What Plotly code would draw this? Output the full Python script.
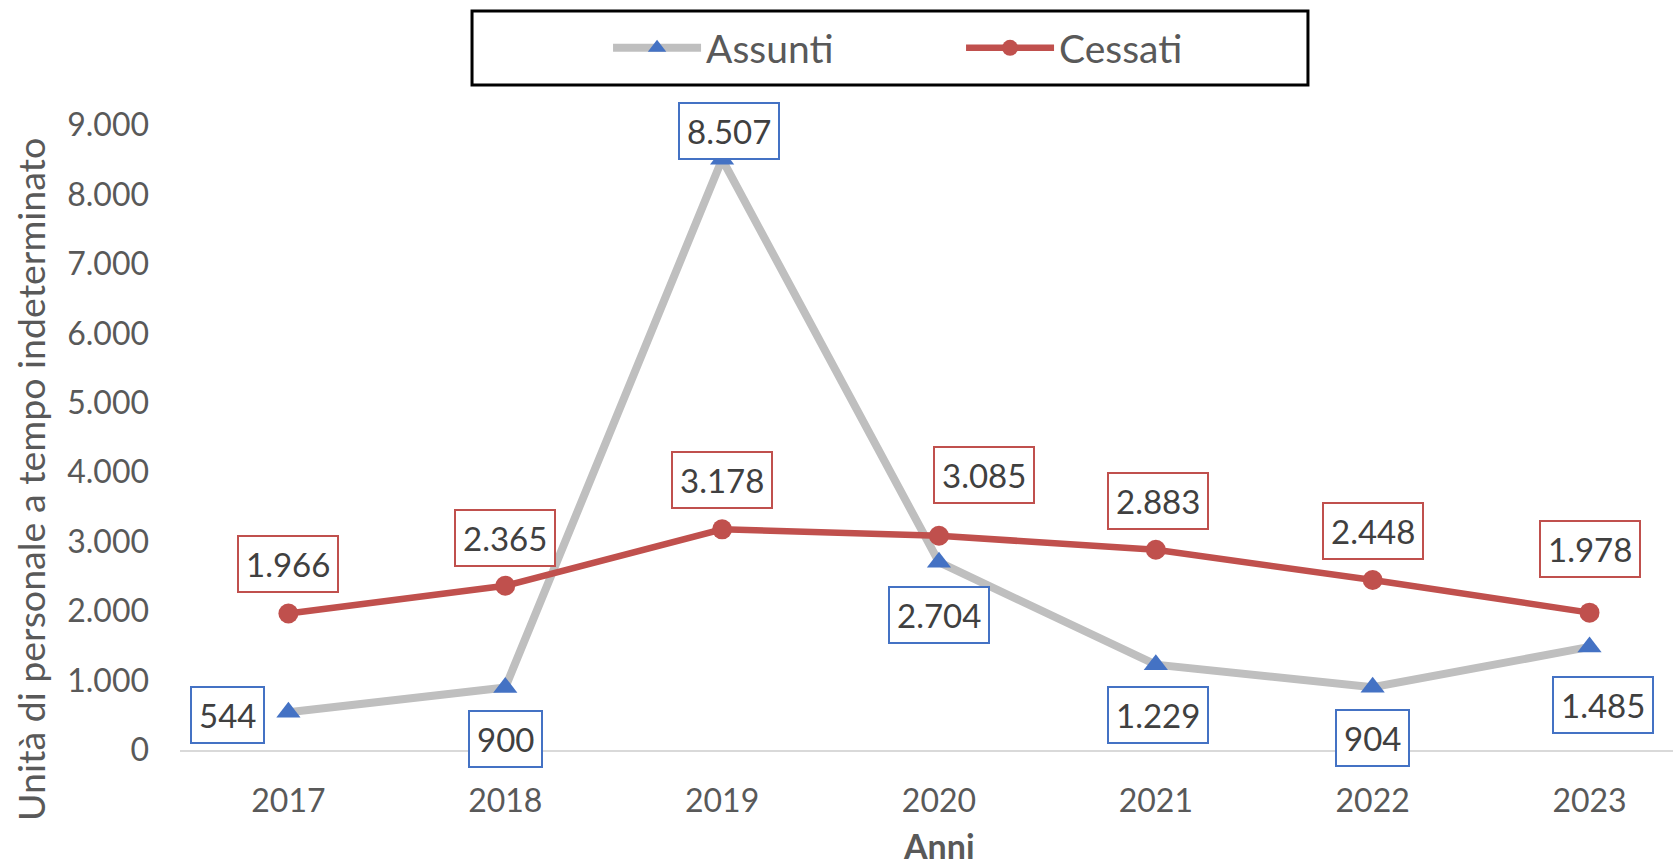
import plotly.graph_objects as go

anni = ["2017", "2018", "2019", "2020", "2021", "2022", "2023"]
assunti = [544, 900, 8507, 2704, 1229, 904, 1485]
cessati = [1966, 2365, 3178, 3085, 2883, 2448, 1978]
y_ticks = [0, 1000, 2000, 3000, 4000, 5000, 6000, 7000, 8000, 9000]

# label offsets (px) relative to the points
ass_dx = [-61, 0, 7, 0, 2, 0, 13]
ass_dy = [-3, -51, 28, -53, -50, -51, -58]
ces_dx = [0, 0, 0, 45, 2, 0, 0]
ces_dy = [49, 48, 49, 61, 49, 49, 64]

FONT = "Lato"
GREY_TXT = "#595959"
LBL_TXT = "#404040"
BLUE = "#4472C4"
RED = "#C0504D"
GREY_LINE = "#BFBFBF"


def fmt(v):
    return f"{v:,}".replace(",", ".")


fig = go.Figure()
fig.add_trace(go.Scatter(
    x=anni, y=assunti, name="Assunti", mode="lines+markers",
    line=dict(color=GREY_LINE, width=8),
    marker=dict(symbol="triangle-up", size=21, color=BLUE),
))
fig.add_trace(go.Scatter(
    x=anni, y=cessati, name="Cessati", mode="lines+markers",
    line=dict(color=RED, width=6.5),
    marker=dict(symbol="circle", size=20, color=RED),
))

annotations = []
for i, a in enumerate(anni):
    annotations.append(dict(
        x=i, y=assunti[i], xref="x", yref="y", text=fmt(assunti[i]),
        showarrow=False, xshift=ass_dx[i], yshift=ass_dy[i],
        font=dict(family=FONT, size=33, color=LBL_TXT),
        bordercolor=BLUE, borderwidth=2, borderpad=7, bgcolor="white",
    ))
    annotations.append(dict(
        x=i, y=cessati[i], xref="x", yref="y", text=fmt(cessati[i]),
        showarrow=False, xshift=ces_dx[i], yshift=ces_dy[i],
        font=dict(family=FONT, size=33, color=LBL_TXT),
        bordercolor=RED, borderwidth=2, borderpad=7, bgcolor="white",
    ))

annotations.append(dict(
    x=3, y=-0.1885, xref="x", yref="paper", text="<b>Anni</b>",
    showarrow=False, xanchor="center", yanchor="bottom",
    font=dict(family=FONT, size=34, color=GREY_TXT),
))
annotations.append(dict(
    x=-0.1005, y=0.4336, xref="paper", yref="paper",
    text="Unità di personale a tempo indeterminato", textangle=-90,
    showarrow=False, xanchor="center", yanchor="middle",
    font=dict(family=FONT, size=37.5, color=GREY_TXT),
))

fig.update_layout(
    width=1673, height=868,
    margin=dict(l=180, r=0, t=125, b=118),
    paper_bgcolor="white", plot_bgcolor="white",
    separators=",.",
    font=dict(family=FONT, color=GREY_TXT, size=30),
    showlegend=True,
    legend=dict(
        orientation="h", x=0.2867, y=1.1232, xanchor="left", yanchor="middle",
        itemwidth=88, entrywidth=250, entrywidthmode="pixels",
        font=dict(family=FONT, size=39, color=GREY_TXT),
        bgcolor="rgba(0,0,0,0)",
    ),
    annotations=annotations,
    shapes=[dict(
        type="rect", xref="paper", yref="paper",
        x0=0.1956, x1=0.7555, y0=1.064, y1=1.1824,
        line=dict(color="black", width=3), fillcolor="rgba(0,0,0,0)",
    )],
    xaxis=dict(
        type="category", range=[-0.5, 6.385],
        showgrid=False, showline=True, linecolor="#D9D9D9", linewidth=2,
        ticks="", ticklabelstandoff=22,
        tickfont=dict(family=FONT, size=32, color=GREY_TXT),
    ),
    yaxis=dict(
        range=[0, 9000], tickvals=y_ticks, tickformat=",d",
        showgrid=False, zeroline=False, showline=False,
        ticks="", ticklabelstandoff=30,
        tickfont=dict(family=FONT, size=32, color=GREY_TXT),
    ),
)

fig.write_html(
    "out.html",
    config={"displayModeBar": False},
    post_script="document.body.style.margin='0';",
)
